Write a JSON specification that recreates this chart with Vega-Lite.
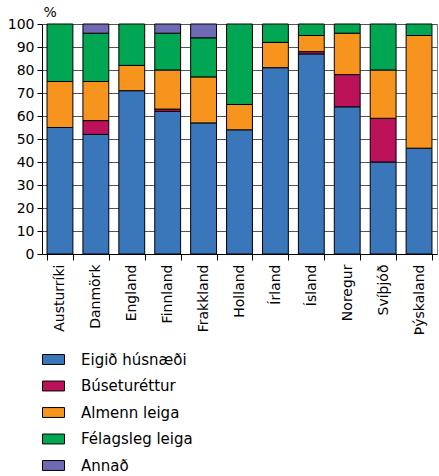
{
  "$schema": "https://vega.github.io/schema/vega-lite/v6.json",
  "width": 395,
  "height": 230,
  "autosize": "none",
  "padding": {"left": 42, "top": 24, "right": 2, "bottom": 222},
  "config": {
    "font": "DejaVu Sans",
    "view": {"stroke": "#7f7f7f", "strokeWidth": 1}
  },
  "data": {
    "values": [
      {"land": "Austurríki", "flokkur": "Eigið húsnæði", "k": 1, "v": 55},
      {"land": "Austurríki", "flokkur": "Búseturéttur", "k": 2, "v": 0},
      {"land": "Austurríki", "flokkur": "Almenn leiga", "k": 3, "v": 20},
      {"land": "Austurríki", "flokkur": "Félagsleg leiga", "k": 4, "v": 25},
      {"land": "Austurríki", "flokkur": "Annað", "k": 5, "v": 0},
      {"land": "Danmörk", "flokkur": "Eigið húsnæði", "k": 1, "v": 52},
      {"land": "Danmörk", "flokkur": "Búseturéttur", "k": 2, "v": 6},
      {"land": "Danmörk", "flokkur": "Almenn leiga", "k": 3, "v": 17},
      {"land": "Danmörk", "flokkur": "Félagsleg leiga", "k": 4, "v": 21},
      {"land": "Danmörk", "flokkur": "Annað", "k": 5, "v": 4},
      {"land": "England", "flokkur": "Eigið húsnæði", "k": 1, "v": 71},
      {"land": "England", "flokkur": "Búseturéttur", "k": 2, "v": 0},
      {"land": "England", "flokkur": "Almenn leiga", "k": 3, "v": 11},
      {"land": "England", "flokkur": "Félagsleg leiga", "k": 4, "v": 18},
      {"land": "England", "flokkur": "Annað", "k": 5, "v": 0},
      {"land": "Finnland", "flokkur": "Eigið húsnæði", "k": 1, "v": 62},
      {"land": "Finnland", "flokkur": "Búseturéttur", "k": 2, "v": 1},
      {"land": "Finnland", "flokkur": "Almenn leiga", "k": 3, "v": 17},
      {"land": "Finnland", "flokkur": "Félagsleg leiga", "k": 4, "v": 16},
      {"land": "Finnland", "flokkur": "Annað", "k": 5, "v": 4},
      {"land": "Frakkland", "flokkur": "Eigið húsnæði", "k": 1, "v": 57},
      {"land": "Frakkland", "flokkur": "Búseturéttur", "k": 2, "v": 0},
      {"land": "Frakkland", "flokkur": "Almenn leiga", "k": 3, "v": 20},
      {"land": "Frakkland", "flokkur": "Félagsleg leiga", "k": 4, "v": 17},
      {"land": "Frakkland", "flokkur": "Annað", "k": 5, "v": 6},
      {"land": "Holland", "flokkur": "Eigið húsnæði", "k": 1, "v": 54},
      {"land": "Holland", "flokkur": "Búseturéttur", "k": 2, "v": 0},
      {"land": "Holland", "flokkur": "Almenn leiga", "k": 3, "v": 11},
      {"land": "Holland", "flokkur": "Félagsleg leiga", "k": 4, "v": 35},
      {"land": "Holland", "flokkur": "Annað", "k": 5, "v": 0},
      {"land": "Írland", "flokkur": "Eigið húsnæði", "k": 1, "v": 81},
      {"land": "Írland", "flokkur": "Búseturéttur", "k": 2, "v": 0},
      {"land": "Írland", "flokkur": "Almenn leiga", "k": 3, "v": 11},
      {"land": "Írland", "flokkur": "Félagsleg leiga", "k": 4, "v": 8},
      {"land": "Írland", "flokkur": "Annað", "k": 5, "v": 0},
      {"land": "Ísland", "flokkur": "Eigið húsnæði", "k": 1, "v": 87},
      {"land": "Ísland", "flokkur": "Búseturéttur", "k": 2, "v": 1},
      {"land": "Ísland", "flokkur": "Almenn leiga", "k": 3, "v": 7},
      {"land": "Ísland", "flokkur": "Félagsleg leiga", "k": 4, "v": 5},
      {"land": "Ísland", "flokkur": "Annað", "k": 5, "v": 0},
      {"land": "Noregur", "flokkur": "Eigið húsnæði", "k": 1, "v": 64},
      {"land": "Noregur", "flokkur": "Búseturéttur", "k": 2, "v": 14},
      {"land": "Noregur", "flokkur": "Almenn leiga", "k": 3, "v": 18},
      {"land": "Noregur", "flokkur": "Félagsleg leiga", "k": 4, "v": 4},
      {"land": "Noregur", "flokkur": "Annað", "k": 5, "v": 0},
      {"land": "Svíþjóð", "flokkur": "Eigið húsnæði", "k": 1, "v": 40},
      {"land": "Svíþjóð", "flokkur": "Búseturéttur", "k": 2, "v": 19},
      {"land": "Svíþjóð", "flokkur": "Almenn leiga", "k": 3, "v": 21},
      {"land": "Svíþjóð", "flokkur": "Félagsleg leiga", "k": 4, "v": 20},
      {"land": "Svíþjóð", "flokkur": "Annað", "k": 5, "v": 0},
      {"land": "Þýskaland", "flokkur": "Eigið húsnæði", "k": 1, "v": 46},
      {"land": "Þýskaland", "flokkur": "Búseturéttur", "k": 2, "v": 0},
      {"land": "Þýskaland", "flokkur": "Almenn leiga", "k": 3, "v": 49},
      {"land": "Þýskaland", "flokkur": "Félagsleg leiga", "k": 4, "v": 5},
      {"land": "Þýskaland", "flokkur": "Annað", "k": 5, "v": 0}
    ]
  },
  "transform": [{"filter": "datum.v > 0"}],
  "mark": {"type": "bar", "stroke": "#000000", "strokeWidth": 1},
  "encoding": {
    "x": {
      "field": "land",
      "type": "nominal",
      "sort": null,
      "scale": {"paddingInner": 0.28, "paddingOuter": 0.14},
      "axis": {
        "title": null,
        "tickBand": "extent",
        "labelAngle": -90,
        "labelFontSize": 14,
        "labelColor": "#000000",
        "labelPadding": 4,
        "tickColor": "#000000",
        "tickSize": 6,
        "domainColor": "#000000",
        "grid": false
      }
    },
    "y": {
      "field": "v",
      "type": "quantitative",
      "stack": "zero",
      "scale": {"domain": [0, 100], "nice": false},
      "axis": {
        "title": "%",
        "titleAngle": 0,
        "titleX": 1,
        "titleY": -8,
        "titleAlign": "left",
        "titleBaseline": "alphabetic",
        "titleFontWeight": "normal",
        "titleFontSize": 14,
        "titleColor": "#000000",
        "values": [0, 10, 20, 30, 40, 50, 60, 70, 80, 90, 100],
        "labelFontSize": 14,
        "labelColor": "#000000",
        "labelPadding": 3,
        "tickColor": "#000000",
        "tickSize": 5,
        "domainColor": "#000000",
        "grid": true,
        "gridColor": "#555555",
        "gridOpacity": 1
      }
    },
    "color": {
      "field": "flokkur",
      "type": "nominal",
      "scale": {
        "domain": ["Eigið húsnæði", "Búseturéttur", "Almenn leiga", "Félagsleg leiga", "Annað"],
        "range": ["#3a77ba", "#bb1259", "#f7941d", "#00a651", "#6e6ab3"]
      },
      "legend": {
        "title": null,
        "orient": "none",
        "legendX": 0,
        "legendY": 324,
        "padding": 0,
        "symbolType": "M-1,-0.45H1V0.45H-1Z",
        "symbolSize": 484,
        "symbolStrokeColor": "#000000",
        "symbolStrokeWidth": 1,
        "symbolOpacity": 1,
        "labelFontSize": 15,
        "labelColor": "#000000",
        "labelOffset": 16,
        "rowPadding": 6.5
      }
    },
    "order": {"field": "k", "type": "quantitative"}
  }
}
